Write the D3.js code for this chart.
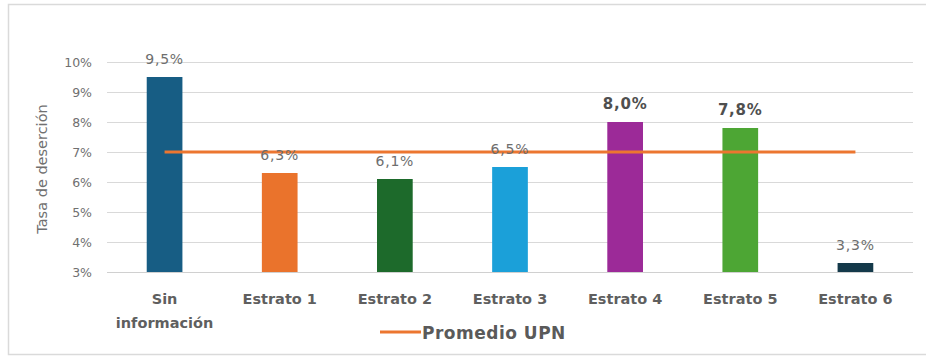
<!DOCTYPE html>
<html>
<head>
<meta charset="utf-8">
<script src="https://cdn.jsdelivr.net/npm/d3@7"></script>
<style>
  html, body { margin: 0; padding: 0; background: #fff; }
  svg { display: block; }
  text { font-family: "DejaVu Sans", Arial, sans-serif; }
</style>
</head>
<body>
<svg id="chart" width="926" height="358"></svg>
<script>
// Tasa de deserción por estrato
const categories = ["Sin información", "Estrato 1", "Estrato 2", "Estrato 3", "Estrato 4", "Estrato 5", "Estrato 6"];
const rates = [9.5, 6.3, 6.1, 6.5, 8.0, 7.8, 3.3];
const barColors = ["#175d84", "#ea732c", "#1d6a2b", "#1ba0d9", "#9c2a98", "#4da634", "#14394a"];
const boldLabels = [false, false, false, false, true, true, false];
const average = [7.0, 7.0, 7.0, 7.0, 7.0, 7.0, 7.0];
const yTicks = [3, 4, 5, 6, 7, 8, 9, 10];
const legendLabel = "Promedio UPN";
const yTitle = "Tasa de deserción";

const svg = d3.select("#chart");
const fmt = v => d3.format(".1f")(v).replace(".", ",") + "%";

// outer frame
svg.append("rect")
  .attr("x", 8.5).attr("y", 4.5).attr("width", 930).attr("height", 350)
  .attr("fill", "none").attr("stroke", "#dadada").attr("stroke-width", 1.5);

const plotLeft = 107, plotRight = 913, plotTop = 62, plotBottom = 272;

const x = d3.scaleBand().domain(categories).range([plotLeft, plotRight]).padding(0);
const y = d3.scaleLinear().domain([3, 10]).range([plotBottom, plotTop]);
const barW = x.bandwidth() * 0.31;
const cx = d => x(d) + x.bandwidth() / 2;

// gridlines
svg.append("g")
  .selectAll("line").data(yTicks).join("line")
  .attr("x1", plotLeft).attr("x2", plotRight)
  .attr("y1", d => y(d) + 0.5).attr("y2", d => y(d) + 0.5)
  .attr("stroke", "#d9d9d9").attr("stroke-width", 1);

// y axis labels
const yAxis = d3.axisLeft(y).tickValues(yTicks).tickFormat(d => d + "%").tickSize(0).tickPadding(0);
const yG = svg.append("g").attr("transform", `translate(${plotLeft - 15},0)`).call(yAxis);
yG.select(".domain").remove();
yG.selectAll("text")
  .attr("fill", "#707070").style("font-size", "12.5px")
  .style("font-family", "'DejaVu Sans', Arial, sans-serif");

// y title
svg.append("text")
  .attr("transform", `translate(47,${(plotTop + plotBottom) / 2 + 2}) rotate(-90)`)
  .attr("text-anchor", "middle")
  .attr("fill", "#707070").style("font-size", "14.5px")
  .text(yTitle);

// bars
svg.append("g")
  .selectAll("rect").data(categories).join("rect")
  .attr("x", d => cx(d) - barW / 2)
  .attr("width", barW)
  .attr("y", (d, i) => y(rates[i]))
  .attr("height", (d, i) => y(3) - y(rates[i]))
  .attr("fill", (d, i) => barColors[i]);

// average line
const line = d3.line()
  .x((d, i) => cx(categories[i]))
  .y(d => y(d));
svg.append("path")
  .datum(average)
  .attr("d", line)
  .attr("fill", "none")
  .attr("stroke", "#ec7630")
  .attr("stroke-width", 3);

// value labels
svg.append("g")
  .selectAll("text").data(categories).join("text")
  .attr("x", cx)
  .attr("y", (d, i) => y(rates[i]) - 13)
  .attr("text-anchor", "middle")
  .attr("fill", (d, i) => boldLabels[i] ? "#4f4f4f" : "#6e6e6e")
  .style("font-size", (d, i) => boldLabels[i] ? "15px" : "14px")
  .style("font-weight", (d, i) => boldLabels[i] ? "bold" : "normal")
  .style("letter-spacing", "0.8px")
  .text((d, i) => fmt(rates[i]));

// x axis line
svg.append("line")
  .attr("x1", plotLeft).attr("x2", plotRight)
  .attr("y1", plotBottom + 0.5).attr("y2", plotBottom + 0.5)
  .attr("stroke", "#d0d0d0");

// category labels
const xl = svg.append("g")
  .selectAll("text").data(categories).join("text")
  .attr("x", cx)
  .attr("y", 304)
  .attr("text-anchor", "middle")
  .attr("fill", "#5f5f5f")
  .style("font-size", "14.5px")
  .style("font-weight", "bold");
xl.each(function(d) {
  const words = d === "Sin información" ? ["Sin", "información"] : [d];
  const t = d3.select(this);
  words.forEach((w, j) => {
    t.append("tspan").attr("x", cx(d)).attr("dy", j === 0 ? 0 : 24).text(w);
  });
});

// legend
svg.append("line")
  .attr("x1", 380).attr("x2", 421).attr("y1", 332).attr("y2", 332)
  .attr("stroke", "#ec7630").attr("stroke-width", 3);
svg.append("text")
  .attr("x", 422).attr("y", 339)
  .attr("fill", "#5a5a5a")
  .style("font-size", "17px").style("font-weight", "bold")
  .style("letter-spacing", "0.5px")
  .text(legendLabel);
</script>
</body>
</html>
